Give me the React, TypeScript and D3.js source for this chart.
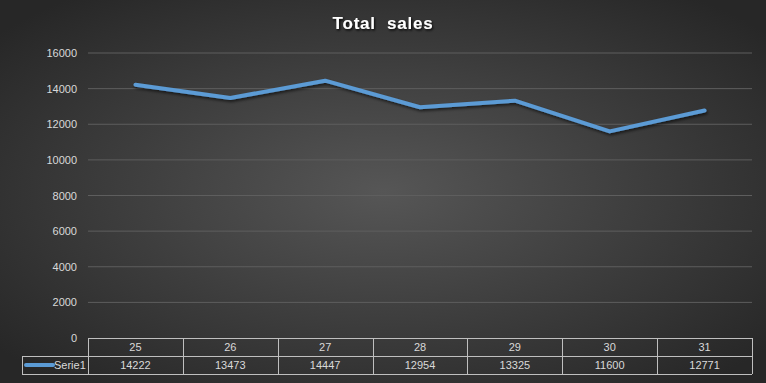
import React from "react";
import * as d3 from "d3";

const categories = ["25", "26", "27", "28", "29", "30", "31"];
const values = [14222, 13473, 14447, 12954, 13325, 11600, 12771];
const yTicks = [0, 2000, 4000, 6000, 8000, 10000, 12000, 14000, 16000];
const seriesName = "Serie1";
const title = "Total  sales";

const W = 766, H = 383;
const left = 88, right = 752, top = 53, bottom = 338;
const rowH = 18;

export default function App() {
  const x = d3.scaleBand<string>().domain(categories).range([left, right]).padding(0);
  const y = d3.scaleLinear().domain([0, 16000]).range([bottom, top]);
  const line = d3.line<number>()
    .x((_, i) => (x(categories[i]) as number) + x.bandwidth() / 2)
    .y((d) => y(d));
  const font = "'Liberation Sans', Arial, sans-serif";
  const txt = "#d9d9d9";
  const border = "#bfbfbf";
  return (
    <svg width={W} height={H} style={{ position: "absolute", left: 0, top: 0 }} fontFamily={font}>
      <defs>
        <radialGradient id="bg" cx="50%" cy="50%" r="65%">
          <stop offset="0%" stopColor="#565656" />
          <stop offset="100%" stopColor="#272727" />
        </radialGradient>
        <filter id="sh" x="-10%" y="-20%" width="130%" height="160%">
          <feDropShadow dx="1" dy="2" stdDeviation="1.5" floodColor="#000" floodOpacity="0.6" />
        </filter>
        <filter id="tsh" x="-10%" y="-30%" width="130%" height="180%">
          <feDropShadow dx="1" dy="1.5" stdDeviation="1" floodColor="#000" floodOpacity="0.9" />
        </filter>
      </defs>
      <rect x={0} y={0} width={W} height={H} fill="url(#bg)" />
      <text x={383} y={29} textAnchor="middle" fill="#ffffff" fontSize={17} fontWeight="bold" letterSpacing={0.8} filter="url(#tsh)" style={{ whiteSpace: "pre" }}>
        {title}
      </text>
      {yTicks.map((t) => (
        <g key={t}>
          {t > 0 && <line x1={left} x2={right} y1={y(t)} y2={y(t)} stroke="#5e5e5e" strokeWidth={1} />}
          <text x={77} y={y(t) + 4} textAnchor="end" fill={txt} fontSize={11}>{t}</text>
        </g>
      ))}
      <path d={line(values) || ""} fill="none" stroke="#5b9bd5" strokeWidth={4} strokeLinejoin="round" strokeLinecap="round" filter="url(#sh)" />
      <g stroke={border} strokeWidth={1} fill="none">
        <line x1={left} x2={right} y1={bottom + 0.5} y2={bottom + 0.5} />
        <line x1={22} x2={right} y1={bottom + rowH + 0.5} y2={bottom + rowH + 0.5} />
        <line x1={22} x2={right} y1={bottom + 2 * rowH + 0.5} y2={bottom + 2 * rowH + 0.5} />
        <line x1={22.5} x2={22.5} y1={bottom + rowH} y2={bottom + 2 * rowH} />
        {categories.map((c) => (
          <line key={c} x1={Math.round(x(c) as number) + 0.5} x2={Math.round(x(c) as number) + 0.5} y1={bottom} y2={bottom + 2 * rowH} />
        ))}
        <line x1={right + 0.5} x2={right + 0.5} y1={bottom} y2={bottom + 2 * rowH} />
      </g>
      {categories.map((c, i) => (
        <g key={c}>
          <text x={(x(c) as number) + x.bandwidth() / 2} y={bottom + 13} textAnchor="middle" fill={txt} fontSize={11}>{c}</text>
          <text x={(x(c) as number) + x.bandwidth() / 2} y={bottom + rowH + 13} textAnchor="middle" fill={txt} fontSize={11}>{values[i]}</text>
        </g>
      ))}
      <line x1={26} x2={53} y1={bottom + rowH + 9} y2={bottom + rowH + 9} stroke="#5b9bd5" strokeWidth={4} strokeLinecap="round" />
      <text x={54} y={bottom + rowH + 13} fill={txt} fontSize={11}>{seriesName}</text>
    </svg>
  );
}
